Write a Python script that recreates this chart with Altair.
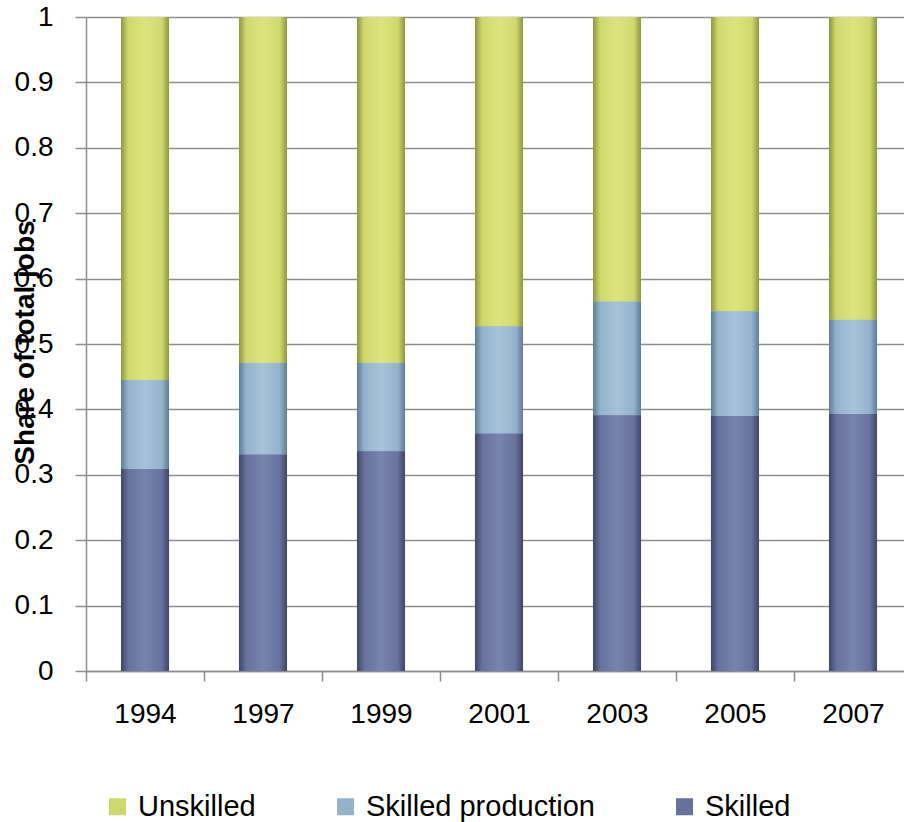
import altair as alt
import pandas as pd

years = ["1994", "1997", "1999", "2001", "2003", "2005", "2007"]
skilled = [0.309, 0.331, 0.336, 0.363, 0.391, 0.390, 0.393]
skilled_production = [0.136, 0.140, 0.135, 0.164, 0.174, 0.160, 0.144]
unskilled = [0.555, 0.529, 0.529, 0.473, 0.435, 0.450, 0.463]

series_names = ["Unskilled", "Skilled production", "Skilled"]
series_colors = ["#CFD86C", "#93B2CC", "#67719D"]
series_dark = ["#8E9640", "#5F7C96", "#3E4569"]
series_light = ["#DDE47E", "#A7C3DA", "#7883AE"]
stack_order = {"Skilled": 0, "Skilled production": 1, "Unskilled": 2}

rows = []
for name, vals in [("Skilled", skilled), ("Skilled production", skilled_production), ("Unskilled", unskilled)]:
    for y, v in zip(years, vals):
        rows.append({"year": y, "series": name, "value": v, "order": stack_order[name]})
df = pd.DataFrame(rows)

FONT = "Liberation Sans"
GRID = "#8E8E8E"

x_enc = alt.X(
    "year:N",
    sort=years,
    title=None,
    scale=alt.Scale(range=[0, 826], paddingInner=0.593, paddingOuter=0.2965),
    axis=alt.Axis(
        labelAngle=0, labelFontSize=28, labelFont=FONT, labelColor="black",
        tickOffset=-59, labelOffset=59, tickSize=10, tickColor=GRID, tickWidth=1.5,
        domainColor=GRID, domainWidth=1.5, labelPadding=19, grid=False,
    ),
)

y_axis = alt.Axis(
    values=[0, 0.1, 0.2, 0.3, 0.4, 0.5, 0.6, 0.7, 0.8, 0.9, 1],
    labelExpr="datum.value == 0 ? '0' : datum.value == 1 ? '1' : format(datum.value, '.1f')",
    labelFontSize=28, labelFont=FONT, labelColor="black", labelPadding=22,
    tickSize=11, tickColor=GRID, tickWidth=1.5,
    domainColor=GRID, domainWidth=1.5,
    grid=True, gridColor=GRID, gridWidth=1.5,
    title="Share of total jobs", titleFont=FONT, titleFontSize=28, titleFontWeight="bold",
    titleColor="black", titleX=-53, titleY=325, titleAngle=-90,
    titleAlign="center", titleBaseline="alphabetic",
)

base = alt.Chart(df).mark_bar(strokeWidth=0).encode(
    x=x_enc,
    y=alt.Y("value:Q", stack="zero", scale=alt.Scale(domain=[0, 1], nice=False), axis=y_axis),
    color=alt.Color(
        "series:N",
        scale=alt.Scale(domain=series_names, range=series_colors),
        legend=alt.Legend(
            title=None, orient="none", legendX=17, legendY=775, direction="horizontal",
            columns=3, columnPadding=75, symbolType="square", symbolSize=289,
            symbolStrokeWidth=0, labelFont=FONT, labelFontSize=29, labelColor="black",
            labelOffset=6, padding=0, labelLimit=400,
        ),
    ),
    order=alt.Order("order:Q", sort="ascending"),
)

layers = [base]
for name, col, dark, light in zip(series_names, series_colors, series_dark, series_light):
    grad = alt.LinearGradient(
        gradient="linear", x1=0, x2=1, y1=0, y2=0,
        stops=[
            alt.GradientStop(color=dark, offset=0),
            alt.GradientStop(color=col, offset=0.15),
            alt.GradientStop(color=light, offset=0.5),
            alt.GradientStop(color=col, offset=0.85),
            alt.GradientStop(color=dark, offset=1),
        ],
    )
    lay = alt.Chart(df).transform_stack(
        stack="value", groupby=["year"], as_=["y0", "y1"],
        sort=[alt.SortField("order", order="ascending")],
    ).transform_filter(
        alt.datum.series == name
    ).mark_bar(color=grad, strokeWidth=0).encode(
        x=alt.X("year:N", sort=years),
        y=alt.Y("y0:Q"),
        y2="y1:Q",
    )
    layers.append(lay)

chart = alt.layer(*layers).properties(
    width=818, height=654,
    autosize=alt.AutoSizeParams(type="none"),
    padding={"left": 86, "top": 17, "right": 0, "bottom": 151},
).configure_view(stroke=None).configure(background="white")

chart.save("out.html", embed_options={"renderer": "svg", "actions": False})
